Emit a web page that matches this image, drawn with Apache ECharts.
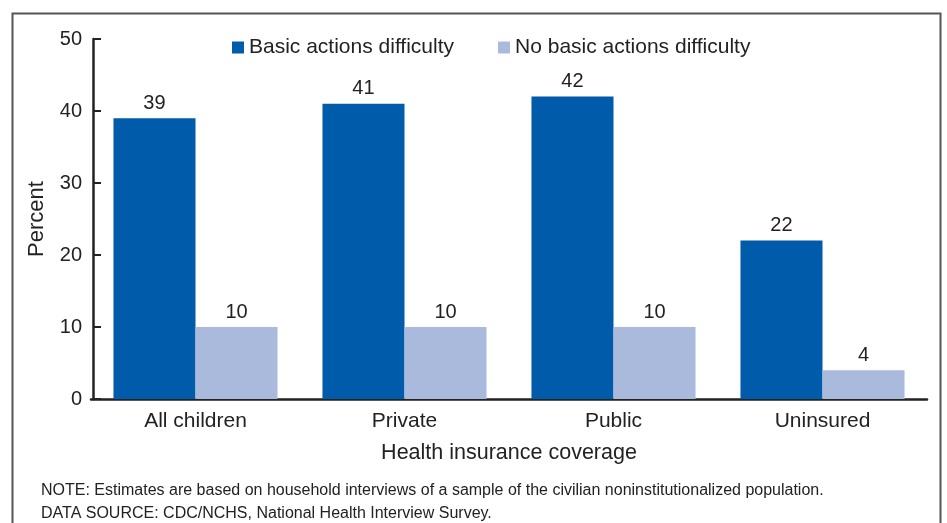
<!DOCTYPE html>
<html><head><meta charset="utf-8">
<script src="https://cdn.jsdelivr.net/npm/echarts@6/dist/echarts.min.js"></script>
<style>html,body{margin:0;padding:0;background:#fff}#c{width:947px;height:523px}</style>
</head><body><div id="c"></div>
<script>
const categories = ['All children', 'Private', 'Public', 'Uninsured'];
const basicDifficulty = [39, 41, 42, 22];
const noBasicDifficulty = [10, 10, 10, 4];
const seriesNames = ['Basic actions difficulty', 'No basic actions difficulty'];
const yTicks = [0, 10, 20, 30, 40, 50];
const noteLines = ['NOTE: Estimates are based on household interviews of a sample of the civilian noninstitutionalized population.',
  'DATA SOURCE: CDC/NCHS, National Health Interview Survey.'];

const font = 'Liberation Sans, Arial, Helvetica, sans-serif';
const txt = '#222';
const chart = echarts.init(document.getElementById('c'), null, {renderer: 'canvas'});
chart.setOption({
  animation: false,
  textStyle: {fontFamily: font, color: txt},
  legend: {
    top: 37, left: 232, padding: 0, itemGap: 44, itemWidth: 12, itemHeight: 12,
    icon: 'rect', textStyle: {fontSize: 21, color: txt, fontFamily: font, padding: [0, 0, 0, 0]},
    data: seriesNames
  },
  grid: {left: 91, right: 20, top: 39, bottom: 124},
  xAxis: {
    type: 'category', data: categories,
    name: 'Health insurance coverage', nameLocation: 'middle', nameGap: 43,
    nameTextStyle: {fontSize: 21.5, color: txt, fontFamily: font},
    axisLine: {lineStyle: {color: '#222', width: 2.5}},
    axisTick: {show: false},
    axisLabel: {fontSize: 21, color: txt, margin: 12, fontFamily: font}
  },
  yAxis: {
    type: 'value', min: yTicks[0], max: yTicks[yTicks.length - 1], interval: 10, offset: -2,
    name: 'Percent', nameLocation: 'middle', nameGap: 45,
    nameTextStyle: {fontSize: 22, color: txt, fontFamily: font},
    axisLine: {show: true, lineStyle: {color: '#222', width: 2.5}},
    axisTick: {show: true, inside: true, length: 8, lineStyle: {color: '#222', width: 2}},
    axisLabel: {fontSize: 20, color: txt, margin: 11, fontFamily: font},
    splitLine: {show: false}
  },
  series: [
    {name: seriesNames[0], type: 'bar', data: basicDifficulty, barGap: 0, barCategoryGap: '21.5%',
     itemStyle: {color: '#005BAA'},
     label: {show: true, position: 'top', distance: 5, fontSize: 20, color: txt, fontFamily: font}},
    {name: seriesNames[1], type: 'bar', data: noBasicDifficulty, barGap: 0, barCategoryGap: '21.5%',
     itemStyle: {color: '#AABADD'},
     label: {show: true, position: 'top', distance: 5, fontSize: 20, color: txt, fontFamily: font}}
  ],
  graphic: [
    {type: 'rect', shape: {x: 12.5, y: 13.5, width: 928, height: 530}, style: {fill: 'none', stroke: '#555', lineWidth: 2}, silent: true},
    {type: 'text', left: 41, top: 483, style: {text: noteLines[0], fontSize: 16, fill: txt, fontFamily: font}},
    {type: 'text', left: 41, top: 506, style: {text: noteLines[1], fontSize: 16, fill: txt, fontFamily: font}}
  ]
});
</script></body></html>
